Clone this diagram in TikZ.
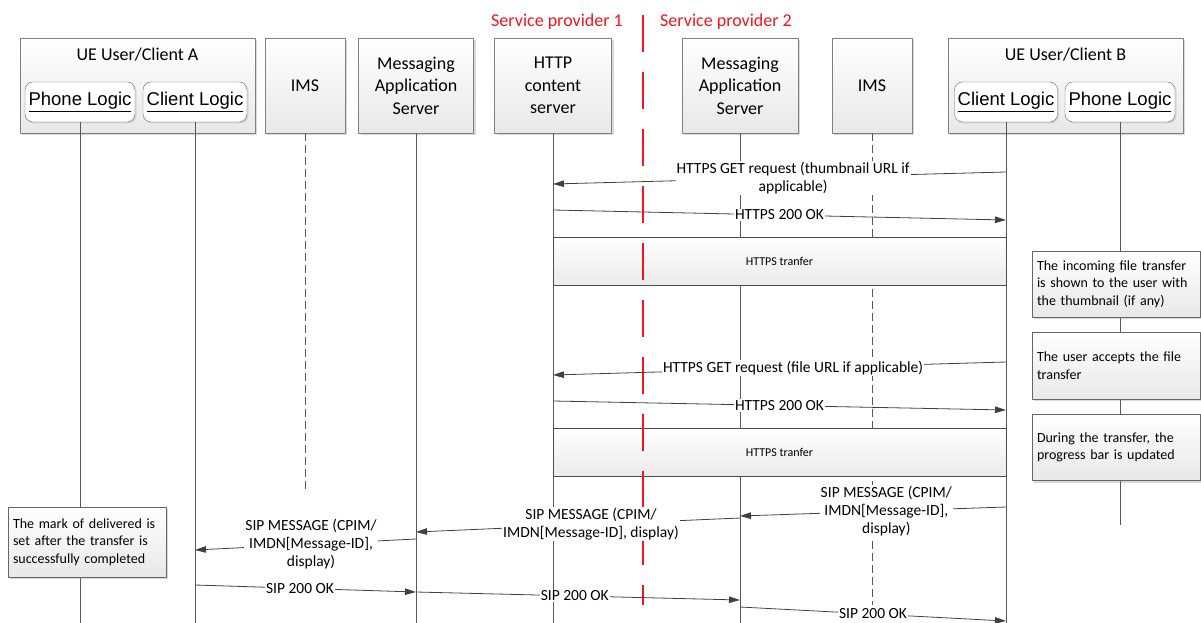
\documentclass[tikz,border=0pt]{standalone}
\usepackage{fontspec}
\setmainfont{Carlito}
\newfontfamily\arialfont{Liberation Sans}
\usetikzlibrary{arrows.meta,shadows}
\definecolor{spred}{RGB}{245,20,30}

\tikzset{
  hdbox/.style={draw=black!50, top color=white, bottom color=black!9,
    drop shadow={shadow xshift=2pt,shadow yshift=-2pt,opacity=.3},
    inner sep=0pt, align=center, font=\fontsize{18}{22.5}\selectfont},
  hdtext/.style={inner sep=0pt, font=\fontsize{18}{22.5}\selectfont},
  logicbox/.style={draw=black!60, rounded corners=8pt, fill=white, inner sep=0pt,
    drop shadow={shadow xshift=1.5pt,shadow yshift=-1.5pt,opacity=.2},
    font=\arialfont\fontsize{18.5}{20}\selectfont},
  trbox/.style={draw=black!70, top color=white, bottom color=black!8, inner sep=0pt,
    font=\fontsize{12}{14}\selectfont},
  notebox/.style={draw=black!60, top color=white, bottom color=black!9,
    drop shadow={shadow xshift=2pt,shadow yshift=-2pt,opacity=.3},
    inner sep=5pt, align=left, font=\fontsize{14}{17.5}\selectfont},
  sptext/.style={text=spred, inner sep=0pt, font=\fontsize{18}{20}\selectfont},
  life/.style={draw=black!65, line width=.8pt},
  msg/.style={draw=black!75, line width=.8pt, -{Triangle[length=11pt,width=6.5pt]}},
  lbl/.style={fill=white, inner sep=1pt, align=center, font=\fontsize{15.5}{18}\selectfont},
}

\begin{document}
\begin{tikzpicture}[x=1pt,y=-1pt,line join=round]
\useasboundingbox (0,0) rectangle (1201,623);
% heads
\node[hdbox,minimum width=235pt,minimum height=95pt] (uea) at (137.5,85.5) {};
\node[hdtext] (ueaT) at (137.5,55) {UE User/Client A};
\node[logicbox,minimum width=110pt,minimum height=40pt] (phA) at (80,102) {\underline{Phone Logic}};
\node[logicbox,minimum width=104pt,minimum height=40pt] (clA) at (195,102) {\underline{Client Logic}};
\node[hdbox,minimum width=80pt,minimum height=95pt] (imsA) at (305,85.5) {IMS};
\node[hdbox,minimum width=115pt,minimum height=95pt] (masA) at (416,85.5) {Messaging\\Application\\Server};
\node[hdbox,minimum width=117pt,minimum height=95pt] (http) at (553,85.5) {HTTP\\content\\server};
\node[hdbox,minimum width=116pt,minimum height=95pt] (masB) at (740,85.5) {Messaging\\Application\\Server};
\node[hdbox,minimum width=80pt,minimum height=95pt] (imsB) at (872,85.5) {IMS};
\node[hdbox,minimum width=235pt,minimum height=95pt] (ueb) at (1065.5,85.5) {};
\node[hdtext] (uebT) at (1065.5,55) {UE User/Client B};
\node[logicbox,minimum width=103pt,minimum height=40pt] (clB) at (1006,102) {\underline{Client Logic}};
\node[logicbox,minimum width=110pt,minimum height=40pt] (phB) at (1120,102) {\underline{Phone Logic}};
\node[sptext] (sp1) at (557,22) {Service provider 1};
\node[sptext] (sp2) at (726,22) {Service provider 2};

% lifelines
\foreach \n/\x/\y in {phA/80/623,clA/195/623,imsA/305/490,masA/416/623,http/553/623,
    masB/740/623,imsB/872/605,clB/1006/623,phB/1120/525}
  \coordinate (\n-end) at (\x,\y);
\foreach \n in {phA,clA,masA,http,masB,clB,phB}
  \draw[life] (\n.south) -- (\n-end);
\foreach \n in {imsA,imsB}
  \draw[life,dash pattern=on 8pt off 4pt] (\n.south) -- (\n-end);

\node[trbox,minimum width=453pt,minimum height=48pt] (tr1) at (779.5,261) {HTTPS tranfer};
\node[trbox,minimum width=453pt,minimum height=48pt] (tr2) at (779.5,452) {HTTPS tranfer};

\node[notebox,text width=158pt,minimum height=66pt] (nB1) at (1116,284)
  {The incoming file transfer\\is shown to the user with\\the thumbnail (if any)};
\node[notebox,text width=158pt,minimum height=67pt] (nB2) at (1116,365.5)
  {The user accepts the file\\transfer};
\node[notebox,text width=158pt,minimum height=66pt] (nB3) at (1116,447.5)
  {During the transfer, the\\progress bar is updated};
\node[notebox,text width=148pt,minimum height=70pt] (nA) at (87,542)
  {The mark of delivered is\\set after the transfer is\\successfully completed};

% provider border
\coordinate (spTop) at (643,15);
\coordinate (spBot) at (643,605);
\draw[spred,line width=2.5pt,dash pattern=on 37pt off 20pt] (spTop) -- (spBot);

% messages
\coordinate (m1a) at (1006,172); \coordinate (m1b) at (553,184);
\coordinate (m2a) at (553,210);  \coordinate (m2b) at (1006,220);
\coordinate (m3a) at (1006,362); \coordinate (m3b) at (553,375);
\coordinate (m4a) at (553,401);  \coordinate (m4b) at (1006,410);
\coordinate (m5a) at (1006,507); \coordinate (m5b) at (740,516);
\coordinate (m6a) at (740,518);  \coordinate (m6b) at (416,532);
\coordinate (m7a) at (416,539);  \coordinate (m7b) at (195,550);
\coordinate (m8a) at (195,585);  \coordinate (m8b) at (416,592);
\coordinate (m9a) at (416,592);  \coordinate (m9b) at (740,600);
\coordinate (m10a) at (740,607); \coordinate (m10b) at (1006,621);

\draw[msg] (m1a) -- node[lbl,pos=.47] (l1) {HTTPS GET request (thumbnail URL if\\applicable)} (m1b);
\draw[msg] (m2a) -- node[lbl,pos=.5] (l2) {HTTPS 200 OK} (m2b);
\draw[msg] (m3a) -- node[lbl,pos=.47] (l3) {HTTPS GET request (file URL if applicable)} (m3b);
\draw[msg] (m4a) -- node[lbl,pos=.5] (l4) {HTTPS 200 OK} (m4b);
\draw[msg] (m5a) -- node[lbl,pos=.45] (l5) {SIP MESSAGE (CPIM/\\IMDN[Message-ID],\\display)} (m5b);
\draw[msg] (m6a) -- node[lbl,pos=.46] (l6) {SIP MESSAGE (CPIM/\\IMDN[Message-ID], display)} (m6b);
\draw[msg] (m7a) -- node[lbl,pos=.475] (l7) {SIP MESSAGE (CPIM/\\IMDN[Message-ID],\\display)} (m7b);
\draw[msg] (m8a) -- node[lbl,pos=.475] (l8) {SIP 200 OK} (m8b);
\draw[msg] (m9a) -- node[lbl,pos=.49] (l9) {SIP 200 OK} (m9b);
\draw[msg] (m10a) -- node[lbl,pos=.5] (l10) {SIP 200 OK} (m10b);
\end{tikzpicture}
\end{document}
